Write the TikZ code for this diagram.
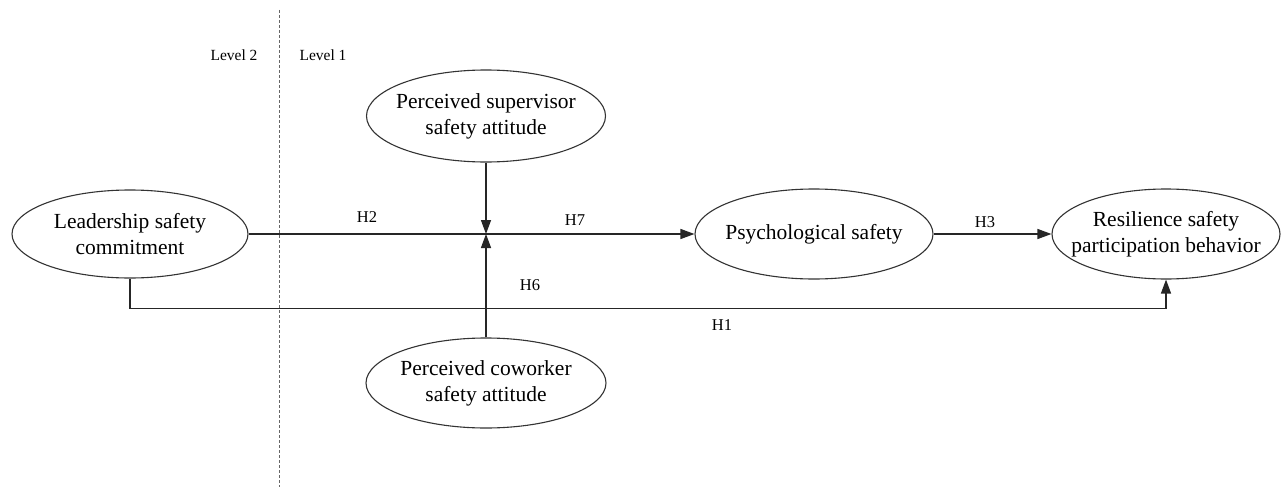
\documentclass[tikz,border=0pt]{standalone}
\usepackage{fontspec}
\setmainfont{Liberation Serif}
\usetikzlibrary{shapes.geometric,arrows.meta}
\begin{document}
\begin{tikzpicture}[x=1pt,y=-1pt,
  ell/.style={draw=black!80,line width=1.1pt,ellipse,inner xsep=-40pt,inner ysep=-15pt,align=center,
    font=\fontsize{21.5}{26}\selectfont},
  conn/.style={draw=black!85,line width=1.3pt},
  arr/.style={conn,-{Triangle[length=14pt,width=10pt]}},
  lbl/.style={font=\fontsize{16.5}{18}\selectfont,inner sep=0pt},
  lvl/.style={font=\fontsize{15.5}{18}\selectfont,inner sep=0pt}]
\useasboundingbox[fill=white] (0,0) rectangle (1285,487);
% level divider
\coordinate (dtop) at (279,10);
\coordinate (dbot) at (279,487);
\draw[black!60,line width=0.9pt,dash pattern=on 3pt off 2pt] (dtop) -- (dbot);
\node[lvl] (l2) at (234,55) {Level 2};
\node[lvl] (l1) at (323,55) {Level 1};
% nodes
\node[ell,minimum width=236pt,minimum height=88pt] (lead) at (130,234) {Leadership safety\\commitment};
\node[ell,minimum width=239pt,minimum height=92pt] (sup) at (486,116) {Perceived supervisor\\safety attitude};
\node[ell,minimum width=240pt,minimum height=90pt] (cow) at (486,383) {Perceived coworker\\safety attitude};
\node[ell,minimum width=238pt,minimum height=90pt] (psy) at (814,234) {Psychological safety};
\node[ell,minimum width=228pt,minimum height=90pt] (res) at (1166,234) {Resilience safety\\participation behavior};
\coordinate (cross) at (486,234);
% connectors
\draw[arr] (lead.east) -- (psy.west);
\draw[arr] (sup.south) -- (cross);
\draw[arr] (cow.north) -- (cross);
\draw[arr] (psy.east) -- (res.west);
\draw[arr] (lead.south) -- ++(0,30) -| (res.south);
% labels
\node[lbl] (h2) at (367,217) {H2};
\node[lbl] (h7) at (575,220) {H7};
\node[lbl] (h6) at (530,285) {H6};
\node[lbl] (h3) at (985,222) {H3};
\node[lbl] (h1) at (722,325) {H1};
\end{tikzpicture}
\end{document}
